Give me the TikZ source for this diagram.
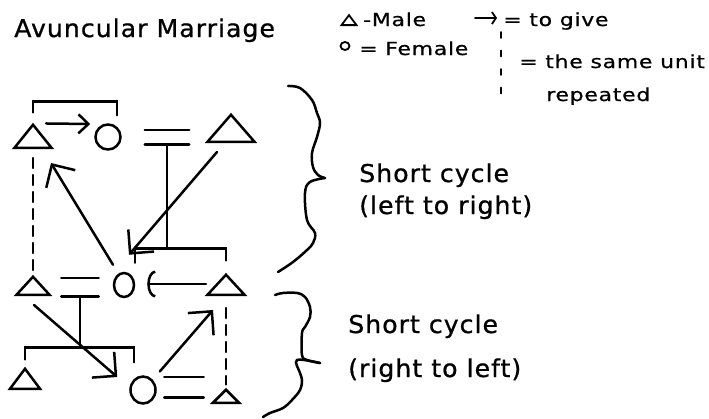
\documentclass[tikz,border=0pt]{standalone}
\usepackage{fontspec}
\setmainfont{DejaVu Sans}
\newfontfamily\handfont[LetterSpace=4, FakeStretch=1.03, FakeBold=0.8]{DejaVu Sans}
\newfontfamily\keyfont[LetterSpace=4, FakeStretch=1.22, FakeBold=0.8]{DejaVu Sans}
\usetikzlibrary{arrows.meta,positioning,shapes.geometric}

\begin{document}
\begin{tikzpicture}[
  x=1pt, y=-1pt,
  line width=2.5pt, line cap=round,
  male/.style={draw, isosceles triangle, shape border rotate=90, isosceles triangle stretches, inner sep=0pt, anchor=lower side},
  female/.style={draw, ellipse, inner sep=0pt},
  wed/.style={inner sep=0pt, minimum width=#1},
  txt/.style={font=\handfont\fontsize{24.5}{28}\selectfont, anchor=base west, inner sep=0pt},
  keytxt/.style={font=\keyfont\fontsize{18}{22}\selectfont, anchor=base west, inner sep=0pt},
  sameunit/.style={dash pattern=on 10pt off 7pt},
  >={Straight Barb[angle=90:24pt]}
]
\useasboundingbox (0,0) rectangle (709,418);

% upper generation
\node[male, minimum width=37pt, minimum height=23pt] (m1) at (33,149) {};
\node[female, minimum width=25pt, minimum height=25pt] (f1) at (108,137) {};
\node[wed=42pt, minimum height=12pt] (eq1) at (167,137) {};
\node[male, minimum width=47pt, minimum height=27pt] (m2) at (231,143) {};

% middle generation
\node[male, minimum width=33pt, minimum height=18pt] (m3) at (33,296) {};
\node[wed=35pt, minimum height=16pt] (eq2) at (80,287) {};
\node[female, minimum width=20pt, minimum height=24pt] (f2) at (124,285) {};
\node[male, minimum width=37pt, minimum height=20pt] (m4) at (226,296) {};

% lower generation
\node[male, minimum width=30pt, minimum height=20pt] (m5) at (25,390) {};
\node[female, minimum width=25pt, minimum height=27pt] (f3) at (143,390) {};
\node[wed=37pt, minimum height=18pt] (eq3) at (184,387) {};
\node[male, minimum width=26pt, minimum height=13pt] (m6) at (226,404) {};

% marriages and descent
\foreach \e in {eq1,eq2,eq3}
  \draw (\e.north west) -- (\e.north east) (\e.south west) -- (\e.south east);
\draw ([shift={(0,-9)}]m1.apex) |- ([shift={(9,-22)}]f1.north) -- ([shift={(9,-8)}]f1.north);
\draw (eq1.south) -- ++(0,104) coordinate (k1);
\draw ([shift={(11,-9)}]f2.north) |- (k1) -| ([shift={(0,-11)}]m4.apex);
\draw (eq2.south) -- ++(0,51) coordinate (k2);
\draw ([shift={(0,-6)}]m5.apex) |- (k2) -| ([shift={(-9,-13)}]f3.north);

% same unit repeated
\draw[sameunit] ([shift={(0,9)}]m1.lower side) -- (m3.apex);
\draw[sameunit] ([shift={(0,12)}]m4.lower side) -- ([shift={(0,-2)}]m6.apex);

% gifts
\draw[-{Straight Barb[length=10pt,width=19pt]}] ([shift={(13,2)}]m1.apex) -- ([shift={(-4,-13)}]f1.west);
\draw[->] ([shift={(-11,-7)}]f2.north) -- ([shift={(18,14)}]m1.lower side);
\draw[->] ([shift={(-14,9)}]m2.lower side) -- ([shift={(5,-17)}]f2.north);
\draw[-{Arc Barb[length=8pt,width=27pt]}] ([shift={(-20,-12)}]m4.lower side) -- ([shift={(12,-1)}]f2.east);
\draw[->] ([shift={(1,9)}]m3.lower side) -- ([shift={(-12,-13)}]f3.west);
\draw[->] ([shift={(7,-8)}]f3.north east) -- ([shift={(-13,14)}]m4.lower side);

% braces
\draw plot[smooth, tension=0.6] coordinates {(288,86) (300,88) (312,100) (317,113) (320,123) (317,137) (312,153) (313,167) (318,175) (325,178)};
\draw plot[smooth, tension=0.6] coordinates {(325,178) (310,182) (305,193) (307,220) (315,233) (313,243) (307,250) (293,262) (278,272)};
\draw plot[smooth, tension=0.6] coordinates {(275,295) (283,293) (297,293) (305,297) (310,307) (310,317) (305,327) (302,333) (302,355) (307,360) (320,363)};
\draw plot[smooth, tension=0.6] coordinates {(320,363) (297,360) (300,373) (302,380) (300,390) (292,400) (283,408) (270,413) (263,417)};

% texts
\node[txt] (title) at (13,37) {Avuncular Marriage};
\node[txt] (cyc1) at (358,182) {Short cycle};
\node[txt, below=32pt of cyc1.base west, anchor=base west] (dir1) {(left to right)};
\node[txt] (cyc2) at (347,333) {Short cycle};
\node[txt, below=44pt of cyc2.base west, anchor=base west] (dir2) {(right to left)};

% key
\node[male, minimum width=15pt, minimum height=10pt, line width=1.8pt] (keym) at (349,26) {};
\node[keytxt] (keymt) at (362,26) {-Male};
\coordinate (keya) at (475,18);
\coordinate (keyb) at (497,18);
\draw[line width=1.8pt, -{Straight Barb[length=4pt,width=12pt]}] (keya) -- (keyb);
\node[keytxt] (keyat) at (502,26) {= to give};
\node[female, minimum width=9pt, minimum height=8pt, line width=1.8pt] (keyf) at (345,46) {};
\node[keytxt] (keyft) at (358,55) {= Female};
\coordinate (keyd1) at (501,32);
\coordinate (keyd2) at (501,95);
\draw[line width=1.8pt, dash pattern=on 6pt off 12.5pt] (keyd1) -- (keyd2);
\node[keytxt] (keyrt) at (518,68) {= the same unit};
\node[keytxt] (keyrp) at (545,101) {repeated};
\end{tikzpicture}
\end{document}
